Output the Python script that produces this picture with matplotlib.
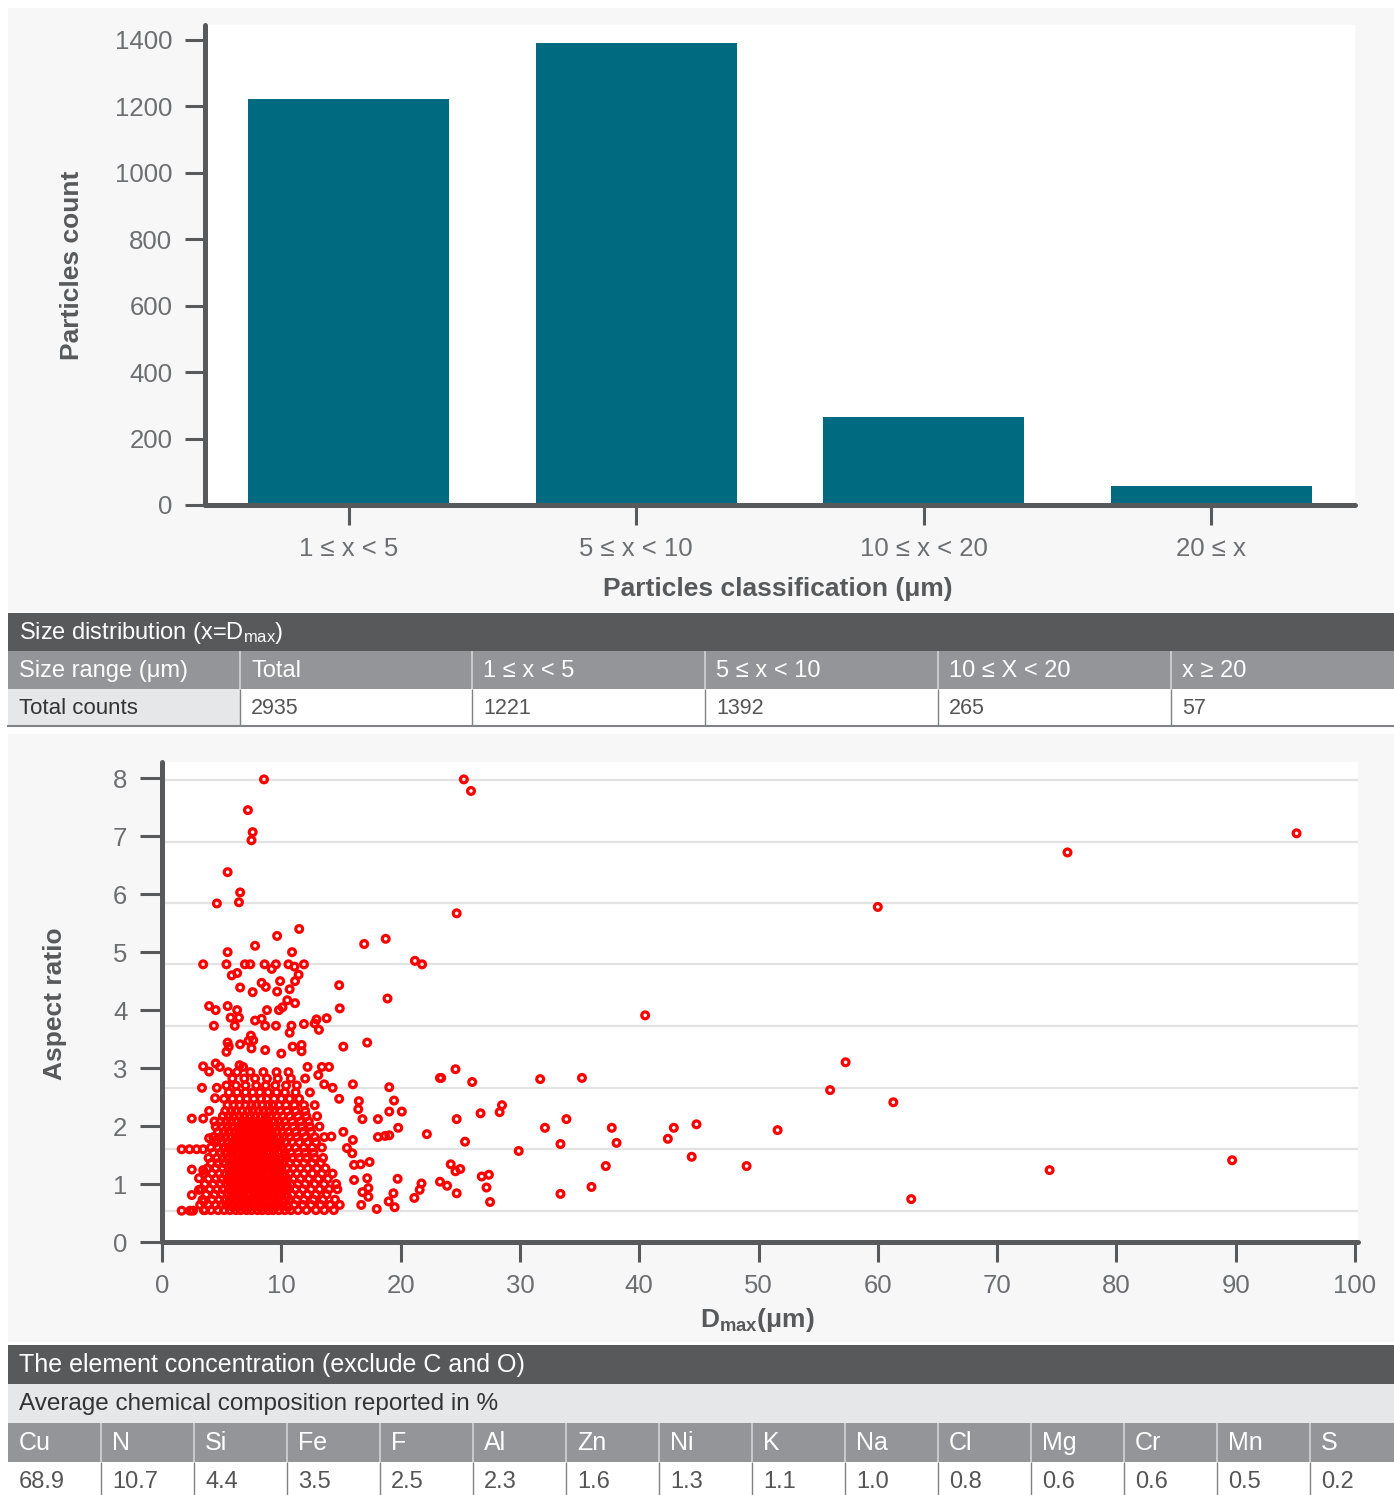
import matplotlib
matplotlib.use('Agg')
import matplotlib.pyplot as plt
import matplotlib.patches as patches

plt.rcParams['font.family'] = ['Liberation Sans', 'DejaVu Sans']
plt.rcParams['mathtext.default'] = 'regular'

W, H = 1394, 1495

# bar chart data
classes = ['1 ≤ x < 5', '5 ≤ x < 10', '10 ≤ x < 20', '20 ≤ x']
counts = [1221, 1392, 265, 57]
count_ticks = [0, 200, 400, 600, 800, 1000, 1200, 1400]

# size distribution table
size_head = ['Size range (μm)', 'Total', '1 ≤ x < 5', '5 ≤ x < 10', '10 ≤ X < 20', 'x ≥ 20']
size_vals = ['Total counts', '2935', '1221', '1392', '265', '57']

# element table
elements = ['Cu', 'N', 'Si', 'Fe', 'F', 'Al', 'Zn', 'Ni', 'K', 'Na', 'Cl', 'Mg', 'Cr', 'Mn', 'S']
percent = ['68.9', '10.7', '4.4', '3.5', '2.5', '2.3', '1.6', '1.3', '1.1', '1.0', '0.8', '0.6', '0.6', '0.5', '0.2']

# scatter: isolated particles (Dmax um, aspect ratio)
sparse_pts = [
    (8.55, 7.98), (7.2, 7.45), (7.6, 7.07), (7.5, 6.93), (5.5, 6.38), (6.55, 6.03), (6.45, 5.86), (4.6, 5.84),
    (25.3, 7.98), (25.9, 7.78), (24.7, 5.67), (75.9, 6.72), (95.1, 7.05), (60.0, 5.78), (40.5, 3.91),
    (57.3, 3.10), (56.0, 2.62), (61.3, 2.41), (62.8, 0.74), (74.4, 1.24), (89.7, 1.41), (51.6, 1.93),
    (49.0, 1.31), (44.8, 2.03), (42.9, 1.97), (42.4, 1.78), (44.4, 1.47), (37.7, 1.97), (38.1, 1.71),
    (37.2, 1.31), (36.0, 0.95), (33.4, 0.83), (33.9, 2.12), (32.1, 1.97), (33.4, 1.69), (31.7, 2.81),
    (35.2, 2.83), (29.9, 1.57), (28.5, 2.36), (28.3, 2.24), (26.7, 2.22), (26.0, 2.76), (24.6, 2.98),
    (23.3, 2.83), (23.4, 2.83), (24.7, 2.12), (25.4, 1.73), (24.2, 1.34), (24.6, 1.22), (25.0, 1.26),
    (23.3, 1.04), (23.9, 0.97), (24.7, 0.84), (26.8, 1.13), (27.4, 1.16), (27.2, 0.94), (27.5, 0.69),
    (22.2, 1.86), (21.2, 4.85), (21.8, 4.79), (18.75, 5.23), (16.95, 5.14), (18.9, 4.2), (14.85, 4.43),
    (14.9, 4.03), (17.2, 3.44), (15.2, 3.37), (16.0, 2.72), (19.05, 2.67), (19.45, 2.44), (20.1, 2.25),
    (19.05, 2.25), (19.8, 1.97), (19.05, 1.84), (18.7, 1.83), (18.1, 1.81), (18.1, 2.12), (16.8, 2.12),
    (16.45, 2.29), (16.5, 2.43), (14.85, 2.47), (16.0, 1.76), (15.5, 1.62), (15.95, 1.53), (14.2, 1.82),
    (15.2, 1.90), (17.4, 1.38), (16.65, 1.34), (16.1, 1.33), (16.1, 1.07), (17.2, 1.10), (17.3, 0.93),
    (16.8, 0.86), (17.3, 0.78), (16.7, 0.64), (18.0, 0.57), (19.75, 1.09), (19.4, 0.84), (19.0, 0.70),
    (19.5, 0.60), (21.15, 0.76), (21.6, 0.90), (21.75, 1.01),
    (11.5, 5.4), (9.65, 5.28), (7.8, 5.11), (5.5, 5.0), (10.9, 5.0), (3.45, 4.79), (5.4, 4.79), (6.95, 4.79),
    (7.4, 4.79), (8.6, 4.79), (9.55, 4.79), (10.6, 4.79), (11.1, 4.75), (11.9, 4.79), (9.2, 4.71),
    (5.85, 4.6), (6.3, 4.64), (8.35, 4.47), (8.7, 4.40), (9.9, 4.5), (11.45, 4.61), (11.15, 4.5),
    (6.55, 4.39), (7.6, 4.31), (9.65, 4.32), (10.7, 4.36), (10.5, 4.17), (11.15, 4.12), (10.1, 4.05),
    (9.8, 4.0), (8.8, 4.0), (5.5, 4.07), (6.3, 4.0), (5.75, 3.87), (6.45, 3.87), (3.95, 4.07), (4.5, 4.0),
    (4.35, 3.73), (6.1, 3.73), (7.8, 3.82), (8.35, 3.85), (8.65, 3.73), (9.55, 3.73), (10.85, 3.73),
    (10.7, 3.61), (11.9, 3.76), (12.8, 3.77), (13.15, 3.66), (12.95, 3.84), (13.8, 3.86), (7.45, 3.56),
    (7.65, 3.48), (7.25, 3.47), (6.55, 3.41), (5.5, 3.44), (5.6, 3.37), (5.4, 3.28), (11.7, 3.40),
    (11.7, 3.29), (10.95, 3.37), (10.0, 3.25), (8.65, 3.31), (7.5, 3.34),
    (3.45, 3.03), (3.95, 2.94), (4.5, 3.08), (4.85, 3.02), (5.55, 2.93), (6.5, 3.05), (6.8, 3.02),
    (3.35, 2.66), (4.6, 2.66), (4.45, 2.48), (12.2, 3.02), (13.4, 3.02), (14.0, 3.02), (13.1, 2.88),
    (13.6, 2.72), (14.3, 2.66),
    (1.65, 1.6), (2.3, 1.6), (2.9, 1.6), (3.45, 1.6), (1.65, 0.54), (2.35, 0.54), (2.6, 0.54), (2.5, 2.13),
    (3.45, 2.13), (3.95, 2.26), (4.4, 2.08), (2.5, 1.25), (2.5, 0.81), (3.45, 1.24), (3.1, 1.1), (3.1, 0.9),
    (3.5, 0.7), (3.6, 0.55), (3.95, 1.79), (4.6, 1.76),
]

# scatter: dense cluster, one row per aspect-ratio level
cluster_rows = [
    (0.55, [3.5, 4.1, 4.7, 5.2, 5.7, 6.2, 6.6, 7.1, 7.5, 8.0, 8.4, 8.9, 9.3, 9.8, 10.3, 10.8, 11.4, 12.1, 12.9, 13.6, 14.4]),
    (0.64, [3.2, 3.9, 4.5, 5.0, 5.4, 5.9, 6.4, 6.8, 7.3, 7.7, 8.2, 8.6, 9.1, 9.5, 10.0, 10.5, 11.1, 11.8, 12.5, 13.3, 14.1, 14.9]),
    (0.73, [3.4, 4.2, 4.8, 5.3, 5.7, 6.1, 6.6, 7.0, 7.5, 7.9, 8.4, 8.8, 9.3, 9.7, 10.2, 10.7, 11.3, 11.9, 12.7, 13.5, 14.5]),
    (0.82, [3.7, 4.4, 5.0, 5.5, 5.9, 6.3, 6.8, 7.2, 7.7, 8.1, 8.5, 9.0, 9.4, 9.9, 10.4, 10.9, 11.5, 12.2, 12.9, 13.8]),
    (0.91, [3.3, 4.0, 4.6, 5.1, 5.6, 6.0, 6.5, 6.9, 7.4, 7.8, 8.3, 8.7, 9.2, 9.6, 10.1, 10.6, 11.2, 11.8, 12.5, 13.2, 14.0, 14.7]),
    (1.00, [3.6, 4.3, 4.9, 5.4, 5.8, 6.3, 6.7, 7.1, 7.6, 8.0, 8.5, 8.9, 9.4, 9.8, 10.3, 10.8, 11.4, 12.0, 12.8, 13.6, 14.6]),
    (1.09, [3.9, 4.5, 5.0, 5.5, 6.0, 6.4, 6.9, 7.3, 7.8, 8.2, 8.6, 9.1, 9.5, 10.0, 10.5, 11.0, 11.6, 12.3, 13.1, 13.9]),
    (1.18, [3.5, 4.2, 4.8, 5.3, 5.7, 6.2, 6.6, 7.0, 7.5, 7.9, 8.4, 8.8, 9.3, 9.7, 10.2, 10.7, 11.3, 11.9, 12.6, 13.4, 14.3]),
    (1.27, [3.8, 4.5, 5.1, 5.6, 6.0, 6.5, 6.9, 7.4, 7.8, 8.2, 8.7, 9.1, 9.6, 10.0, 10.5, 11.0, 11.6, 12.2, 13.0, 13.7]),
    (1.36, [4.1, 4.7, 5.2, 5.7, 6.1, 6.6, 7.0, 7.5, 7.9, 8.4, 8.8, 9.3, 9.7, 10.2, 10.7, 11.3, 11.9, 12.6, 13.3]),
    (1.45, [3.9, 4.6, 5.1, 5.5, 6.0, 6.4, 6.8, 7.3, 7.7, 8.2, 8.6, 9.0, 9.5, 9.9, 10.4, 10.9, 11.5, 12.1, 12.8, 13.5]),
    (1.54, [4.3, 4.9, 5.3, 5.8, 6.2, 6.7, 7.1, 7.6, 8.0, 8.5, 8.9, 9.4, 9.8, 10.3, 10.8, 11.4, 12.0, 12.7]),
    (1.63, [4.1, 4.7, 5.2, 5.6, 6.1, 6.5, 7.0, 7.4, 7.9, 8.3, 8.7, 9.2, 9.6, 10.1, 10.6, 11.2, 11.9, 12.6, 13.4]),
    (1.72, [4.5, 5.0, 5.5, 5.9, 6.4, 6.8, 7.2, 7.7, 8.1, 8.6, 9.0, 9.5, 9.9, 10.4, 10.9, 11.5, 12.2, 12.9]),
    (1.81, [4.3, 4.9, 5.3, 5.8, 6.2, 6.7, 7.1, 7.5, 8.0, 8.4, 8.9, 9.3, 9.8, 10.2, 10.7, 11.3, 12.0, 12.8, 13.6]),
    (1.90, [4.7, 5.2, 5.6, 6.1, 6.5, 7.0, 7.4, 7.8, 8.3, 8.7, 9.2, 9.6, 10.1, 10.6, 11.2, 11.8, 12.5]),
    (1.99, [4.5, 5.0, 5.5, 5.9, 6.4, 6.8, 7.3, 7.7, 8.1, 8.6, 9.0, 9.5, 9.9, 10.4, 11.0, 11.7, 12.4, 13.2]),
    (2.08, [4.9, 5.4, 5.8, 6.3, 6.7, 7.1, 7.6, 8.0, 8.5, 8.9, 9.4, 9.8, 10.3, 10.9, 11.6, 12.3]),
    (2.17, [5.1, 5.6, 6.0, 6.5, 6.9, 7.4, 7.8, 8.3, 8.7, 9.1, 9.6, 10.1, 10.7, 11.4, 12.1, 13.0]),
    (2.26, [5.3, 5.8, 6.2, 6.7, 7.2, 7.6, 8.1, 8.5, 9.0, 9.4, 9.9, 10.5, 11.2, 12.0]),
    (2.36, [5.5, 6.0, 6.5, 7.0, 7.5, 7.9, 8.4, 8.9, 9.3, 9.8, 10.4, 11.1, 11.9, 12.8]),
    (2.47, [5.2, 5.9, 6.5, 7.1, 7.7, 8.3, 8.8, 9.4, 10.0, 10.7, 11.5]),
    (2.58, [5.6, 6.3, 7.0, 7.6, 8.2, 8.9, 9.6, 10.3, 11.2, 12.4]),
    (2.70, [5.4, 6.2, 7.0, 7.9, 8.7, 9.5, 10.4, 11.3]),
    (2.82, [5.9, 6.9, 7.8, 8.8, 9.7, 10.8, 12.0]),
    (2.93, [6.3, 7.4, 8.5, 9.6, 10.6]),
]

# scatter: extra particles in the core of the cluster
core_rows = [
    (0.60, [5.95, 6.85, 7.3, 8.2, 8.65, 9.55, 10.55]),
    (0.69, [5.65, 6.15, 7.05, 7.5, 8.4, 8.85, 9.75, 10.25]),
    (0.78, [6.4, 6.9, 7.75, 8.2, 9.1, 9.55, 10.5]),
    (0.87, [5.8, 6.25, 6.7, 7.6, 8.05, 8.5, 9.4, 9.85]),
    (0.96, [6.3, 6.75, 7.25, 7.7, 8.6, 9.05, 9.5, 10.5]),
    (1.05, [5.65, 6.1, 6.55, 7.0, 7.9, 8.35, 8.8, 9.7, 10.2]),
    (1.14, [6.25, 6.7, 7.15, 7.6, 8.05, 8.9, 9.35, 10.3]),
    (1.23, [5.9, 6.35, 6.8, 7.25, 7.7, 8.15, 8.6, 9.45, 9.95]),
    (1.32, [6.3, 6.75, 7.2, 7.65, 8.05, 8.5, 8.95, 9.9]),
    (1.41, [5.9, 6.35, 6.8, 7.3, 7.75, 8.2, 9.1, 9.55]),
    (1.50, [6.2, 6.65, 7.1, 7.55, 8.0, 8.4, 9.3, 10.25]),
    (1.59, [5.9, 6.75, 7.2, 7.65, 8.1, 8.55, 9.45]),
    (1.68, [6.3, 6.7, 7.15, 7.6, 8.05, 8.95, 9.85]),
    (1.77, [6.2, 6.65, 7.05, 7.5, 8.4, 9.3]),
    (1.86, [6.4, 6.9, 7.75, 8.2, 9.1]),
    (1.95, [6.65, 7.1, 8.0, 8.9]),
    (2.04, [6.95, 7.85, 8.75]),
]

# light grid lines of the inner plot (in outer-axis units)
grid_levels = [0.53, 1.60, 2.66, 3.72, 4.79, 5.84, 6.90, 7.97]

DARK = '#58595b'
MID = '#939598'
LIGHT = '#e6e7e8'
PANEL = '#f7f7f7'
TICK = '#6d6e71'
TEAL = '#006a80'


def frac(x0, y0, x1, y1):
    return [x0 / W, 1 - y1 / H, (x1 - x0) / W, (y1 - y0) / H]


def style_axes(ax):
    for s in ['top', 'right']:
        ax.spines[s].set_visible(False)
    for s in ['left', 'bottom']:
        ax.spines[s].set_color(DARK)
        ax.spines[s].set_linewidth(3.6)
        ax.spines[s].set_capstyle('round')
    ax.tick_params(length=14.5, width=2.2, color=DARK, labelsize=18.5,
                   labelcolor=TICK, pad=9)


fig = plt.figure(figsize=(W / 100, H / 100), dpi=100)
fig.patch.set_facecolor('white')

bg = fig.add_axes([0, 0, 1, 1], zorder=0)
bg.set_xlim(0, W)
bg.set_ylim(H, 0)
bg.axis('off')


def box(x0, y0, x1, y1, color):
    bg.add_patch(patches.Rectangle((x0, y0), x1 - x0, y1 - y0, fc=color, ec='none'))


def vline(x, y0, y1, color, lw=1.0):
    bg.plot([x, x], [y0, y1], color=color, lw=lw, solid_capstyle='butt')


# panels
box(8, 8, W, 612, PANEL)
box(8, 734, W, 1342, PANEL)

# size distribution table
box(8, 613, W, 651, DARK)
bg.text(19, 633, 'Size distribution (x=D$_{max}$)', color='white', fontsize=17, va='center')
col_left = [8, 240, 472, 705, 938, 1171]
box(8, 651, W, 689, MID)
box(8, 689, 240, 726, LIGHT)
box(240, 689, W, 726, 'white')
bg.plot([8, W], [726, 726], color='#808285', lw=1.5)
for i, x in enumerate(col_left):
    if i > 0:
        vline(x, 651, 689, '#d1d3d4', 1.2)
        vline(x, 689, 726, '#808285', 1.0)
    bg.text(x + 11, 671, size_head[i], color='white', fontsize=17, va='center')
    if i == 0:
        bg.text(x + 11, 709, size_vals[i], color='#333333', fontsize=16, va='center')
    else:
        bg.text(x + 11, 709, size_vals[i], color='#555555', fontsize=15.5, va='center')

# element table
box(8, 1345, W, 1384, DARK)
bg.text(19, 1365, 'The element concentration (exclude C and O)', color='white', fontsize=18, va='center')
box(8, 1384, W, 1423, LIGHT)
bg.text(19, 1404, 'Average chemical composition reported in %', color='#333333', fontsize=17.5, va='center')
box(8, 1423, W, 1462, MID)
box(8, 1462, W, H, 'white')
for i, (el, pc) in enumerate(zip(elements, percent)):
    x = 8 + 93 * i
    if i > 0:
        vline(x, 1423, 1462, '#d1d3d4', 1.2)
        vline(x, 1462, H, '#808285', 1.0)
    bg.text(x + 11, 1443, el, color='white', fontsize=18, va='center')
    bg.text(x + 11, 1482, pc, color='#555555', fontsize=17, va='center')

# bar chart
ax1 = fig.add_axes(frac(205, 25, 1355, 505), zorder=2)
ax1.set_facecolor('white')
ax1.bar(range(len(counts)), counts, width=0.70, color=TEAL, zorder=2)
ax1.set_xlim(-0.5, 3.5)
ax1.set_ylim(0, 1445)
ax1.set_yticks(count_ticks)
ax1.set_xticks(range(len(classes)))
ax1.set_xticklabels(classes)
style_axes(ax1)
ax1.tick_params(axis='x', pad=8.5)
ax1.set_ylabel('Particles count', fontsize=19, fontweight='bold', color=DARK)
ax1.yaxis.set_label_coords(-0.116, 0.5)
ax1.yaxis.label.set_va('center')
ax1.set_xlabel('Particles classification (μm)', fontsize=19, fontweight='bold', color=DARK)
ax1.xaxis.set_label_coords(0.498, -0.175)
ax1.xaxis.label.set_va('center')

# scatter
xs = [p[0] for p in sparse_pts]
ys = [p[1] for p in sparse_pts]
for level, row in cluster_rows + core_rows:
    xs += row
    ys += [level] * len(row)

ax2 = fig.add_axes(frac(162, 762, 1358, 1242), zorder=2)
ax2.set_facecolor('white')
for g in grid_levels:
    ax2.axhline(g, color='#e3e3e3', lw=1.6, zorder=1)
ax2.scatter(xs, ys, s=24, facecolors='none', edgecolors='#ff0000', linewidths=2.3, zorder=3)
ax2.set_xlim(0, 100.25)
ax2.set_ylim(0, 8.28)
ax2.set_xticks(range(0, 101, 10))
ax2.set_yticks(range(0, 9))
style_axes(ax2)
ax2.tick_params(axis='y', length=16)
ax2.tick_params(axis='x', pad=8.5)
ax2.set_ylabel('Aspect ratio', fontsize=19, fontweight='bold', color=DARK)
ax2.yaxis.set_label_coords(-0.0895, 0.496)
ax2.yaxis.label.set_va('center')
ax2.set_xlabel('D$_{max}$(μm)', fontsize=19, fontweight='bold', color=DARK)
ax2.xaxis.set_label_coords(0.4975, -0.1625)
ax2.xaxis.label.set_va('center')

fig.savefig('out.png', dpi=100)
